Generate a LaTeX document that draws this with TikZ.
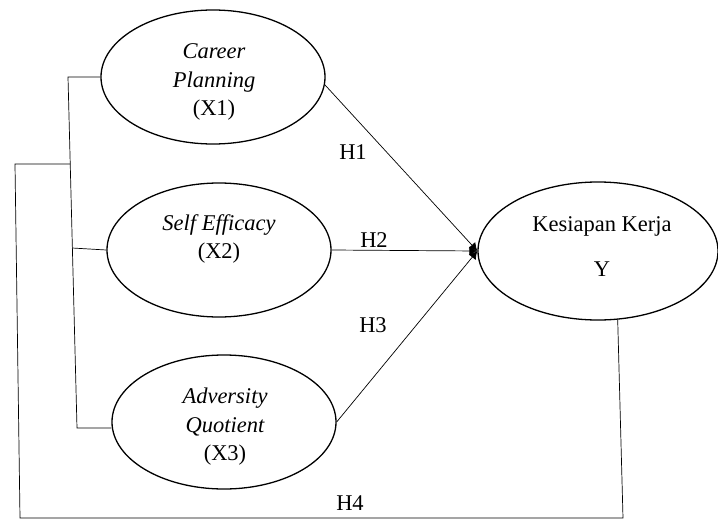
\documentclass[tikz,border=0pt]{standalone}
\usepackage{fontspec}
\setmainfont{Liberation Serif}
\usetikzlibrary{shapes.geometric,arrows.meta}
\begin{document}
\begin{tikzpicture}[x=1pt,y=-1pt,
  lat/.style={ellipse,draw,line width=1.3pt,minimum width=224pt,minimum height=134pt,inner sep=0pt},
  txt/.style={align=center,inner sep=0pt,font=\fontsize{22.5}{28.5}\selectfont},
  conn/.style={draw,line width=0.7pt},
  arr/.style={conn,-{Latex[length=8pt,width=9pt]}},
  hlab/.style={font=\fontsize{22.5}{26}\selectfont,inner sep=1pt}]
\useasboundingbox (0,0) rectangle (718,522);
\node[lat] (X1) at (213,77) {};
\node[lat] (X2) at (219,250) {};
\node[lat] (X3) at (224,422) {};
\node[lat,minimum width=240pt,minimum height=138pt] (Y) at (598,251) {};
\node[txt] (t1) at (214,82) {\itshape Career\\\itshape Planning\\(X1)};
\node[txt] (t2) at (219,239) {\itshape Self Efficacy\\(X2)};
\node[txt] (t3) at (225,427) {\itshape Adversity\\\itshape Quotient\\(X3)};
\node[txt,font=\fontsize{22.5}{45}\selectfont] (ty) at (602,247) {Kesiapan Kerja\\Y};
\draw[arr] (X1.-4) -- (Y.west);
\draw[arr] (X2.east) -- (Y.west);
\draw[arr] (X3.east) -- (Y.west);
\coordinate (b1) at (68,77);
\coordinate (b2) at (72,248);
\coordinate (b3) at (77,428);
\coordinate (bm) at (70,164);
\coordinate (o1) at (15,164);
\coordinate (o2) at (20,518);
\coordinate (o3) at (623,518);
\draw[conn] (X1.west) -- (b1) -- (b3) -- (X3.west |- b3);
\draw[conn] (X2.west) -- (b2);
\draw[conn] (bm) -- (o1) -- (o2) -- (o3) -- (Y.-74);
\node[hlab] (h1) at (353,152) {H1};
\node[hlab] (h2) at (374,240) {H2};
\node[hlab] (h3) at (373,325) {H3};
\node[hlab] (h4) at (350,503) {H4};
\end{tikzpicture}
\end{document}
